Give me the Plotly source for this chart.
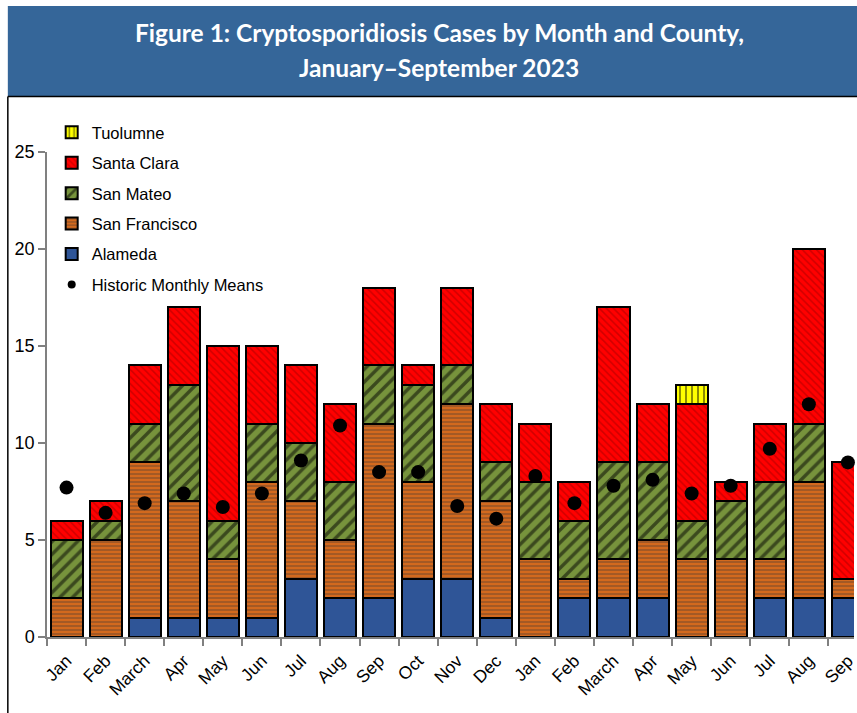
import plotly.graph_objects as go

months = ["Jan", "Feb", "March", "Apr", "May", "Jun", "Jul", "Aug", "Sep", "Oct", "Nov", "Dec",
          "Jan", "Feb", "March", "Apr", "May", "Jun", "Jul", "Aug", "Sep"]
alameda = [0, 0, 1, 1, 1, 1, 3, 2, 2, 3, 3, 1, 0, 2, 2, 2, 0, 0, 2, 2, 2]
san_francisco = [2, 5, 8, 6, 3, 7, 4, 3, 9, 5, 9, 6, 4, 1, 2, 3, 4, 4, 2, 6, 1]
san_mateo = [3, 1, 2, 6, 2, 3, 3, 3, 3, 5, 2, 2, 4, 3, 5, 4, 2, 3, 4, 3, 0]
santa_clara = [1, 1, 3, 4, 9, 4, 4, 4, 4, 1, 4, 3, 3, 2, 8, 3, 6, 1, 3, 9, 6]
tuolumne = [0, 0, 0, 0, 0, 0, 0, 0, 0, 0, 0, 0, 0, 0, 0, 0, 1, 0, 0, 0, 0]
historic_means = [7.7, 6.4, 6.9, 7.4, 6.7, 7.4, 9.1, 10.9, 8.5, 8.5, 6.75, 6.1,
                  8.3, 6.9, 7.8, 8.1, 7.4, 7.8, 9.7, 12.0, 9.0]
y_ticks = [0, 5, 10, 15, 20, 25]

x = list(range(len(months)))

# pixel geometry helpers (plot area)
PL, PR, PT, PB = 47.3, 857.0, 152.0, 637.0
W, H = 857, 713
def px(xpix):
    return (xpix - PL) / (PR - PL)
def py(ypix):
    return (PB - ypix) / (PB - PT)

fig = go.Figure()
line = dict(color="black", width=2)
series = [
    ("Alameda", alameda, dict(color="#2F5597", line=line)),
    ("San Francisco", san_francisco, dict(color="#C55A11", line=line,
        pattern=dict(shape="-", fgcolor="#4a3a30", bgcolor="#D2691E", size=4, solidity=0.35))),
    ("San Mateo", san_mateo, dict(color="#77933C", line=line,
        pattern=dict(shape="/", fgcolor="black", bgcolor="#77933C", size=9, solidity=0.38))),
    ("Santa Clara", santa_clara, dict(color="#FF0000", line=line,
        pattern=dict(shape="\\", fgcolor="#A00000", bgcolor="#FF0000", size=5, solidity=0.3))),
    ("Tuolumne", tuolumne, dict(color="#FFFF00", line=line,
        pattern=dict(shape="|", fgcolor="black", bgcolor="#FFFF00", size=6, solidity=0.3))),
]
for i, (name, vals, mk) in enumerate(series):
    fig.add_trace(go.Bar(x=x, y=vals, name=name, marker=mk, width=0.82,
                         legendgroup=name, legendrank=100 - i))

fig.add_trace(go.Scatter(x=x, y=historic_means, mode="markers", name="Historic Monthly Means",
                         marker=dict(color="black", size=14), showlegend=False, cliponaxis=False))
fig.add_trace(go.Scatter(x=[None], y=[None], mode="markers", name="Historic Monthly Means",
                         marker=dict(color="black", size=8), legendgroup="hm", legendrank=200))

# banner and border
fig.add_shape(type="rect", xref="paper", yref="paper", x0=px(8), x1=px(870), y0=py(96), y1=py(6),
              fillcolor="#356699", line=dict(width=0), layer="below")
fig.add_shape(type="line", xref="paper", yref="paper", x0=px(8), x1=px(870), y0=py(96.5), y1=py(96.5),
              line=dict(color="black", width=1.5))
fig.add_shape(type="line", xref="paper", yref="paper", x0=px(8), x1=px(8), y0=py(96.5), y1=py(720),
              line=dict(color="black", width=1.5))

fig.add_annotation(xref="paper", yref="paper", x=px(441), y=py(33), xanchor="center", yanchor="middle",
                   text="<b>Figure 1: Cryptosporidiosis Cases by Month and County,</b>", showarrow=False,
                   font=dict(family="Lato", size=24.5, color="white"))
fig.add_annotation(xref="paper", yref="paper", x=px(441), y=py(68), xanchor="center", yanchor="middle",
                   text="<b>January–September 2023</b>", showarrow=False,
                   font=dict(family="Lato", size=24.5, color="white"))

fig.update_layout(
    width=W, height=H,
    margin=dict(l=PL, r=W - PR, t=PT, b=H - PB, pad=0),
    barmode="stack",
    bargap=0.18,
    plot_bgcolor="white", paper_bgcolor="white",
    font=dict(family="Liberation Sans, Arial", color="black"),
    showlegend=True,
    legend=dict(x=px(52), y=py(115), xanchor="left", yanchor="top",
                font=dict(size=16.5, family="Liberation Sans, Arial"),
                tracegroupgap=6, bgcolor="rgba(0,0,0,0)", traceorder="grouped"),
    xaxis=dict(range=[-0.5, 20.5 - (PL + 21 * 39.2 - PR) / 39.2], tickmode="array", tickvals=x,
               ticktext=months, tickangle=-45, ticks="", showgrid=False, zeroline=False,
               showline=True, linecolor="#808080", linewidth=1.5, ticklabeloverflow="allow",
               ticklabelstandoff=5,
               tickfont=dict(size=17.5, family="Liberation Sans, Arial"),
               minor=dict(ticks="outside", tickmode="linear", tick0=-0.5, dtick=1,
                          ticklen=7, tickcolor="#808080", tickwidth=1.5, showgrid=False)),
    yaxis=dict(range=[0, 25], tickmode="array", tickvals=y_ticks, ticks="outside", ticklen=7,
               tickcolor="#808080", tickwidth=1.5, showgrid=False, zeroline=False,
               showline=True, linecolor="#808080", linewidth=1.5,
               tickfont=dict(size=18, family="Liberation Sans, Arial")),
)

fig.write_html("out.html", config={"displayModeBar": False},
               post_script="document.body.style.margin='0px';")
